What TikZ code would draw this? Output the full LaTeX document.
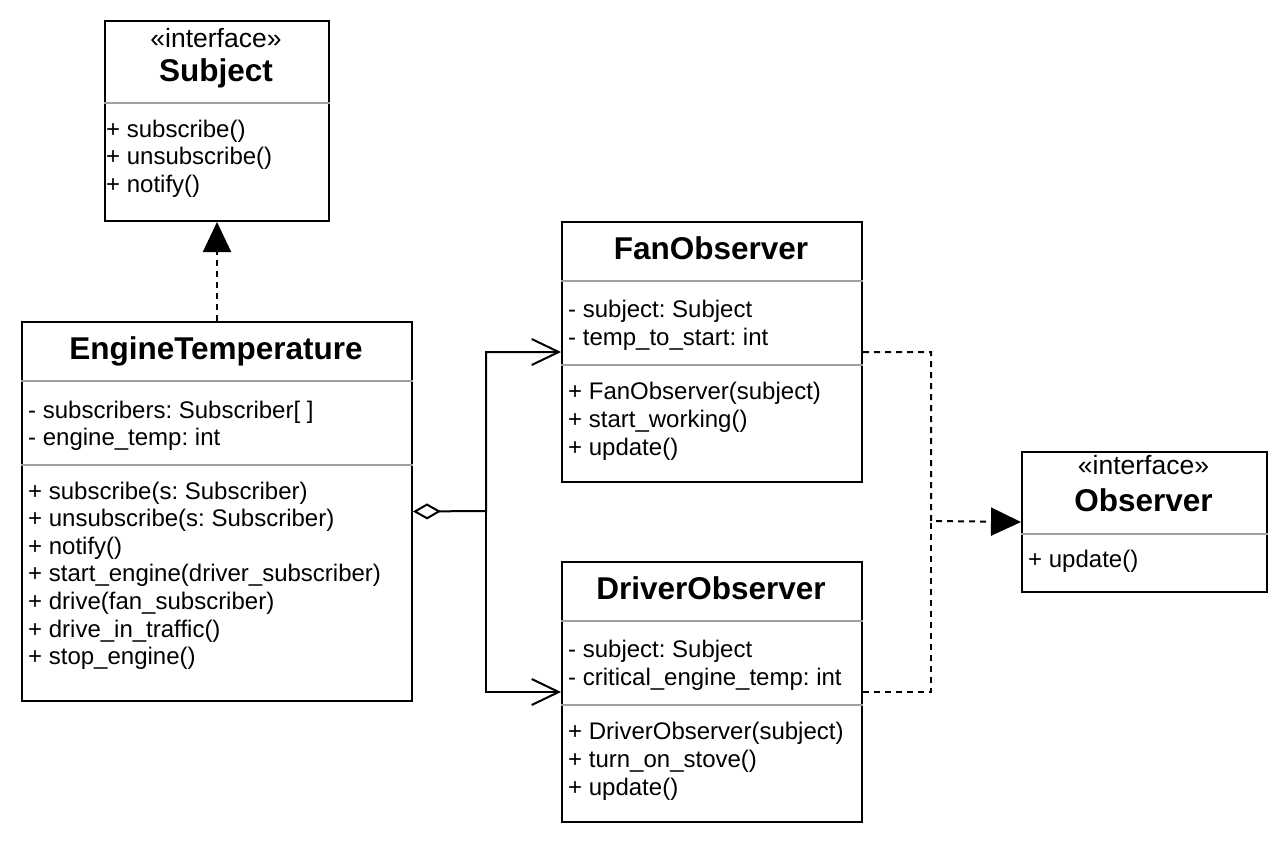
\documentclass[tikz,border=0pt]{standalone}
\usepackage{fontspec}
\setmainfont{Liberation Sans}
\usetikzlibrary{arrows.meta,calc}
\definecolor{sepgray}{RGB}{160,160,160}
\frenchspacing
\begin{document}
\begin{tikzpicture}[x=1pt,y=-1pt,
  umlbox/.style={draw=black,line width=2pt,rectangle,inner sep=0pt,anchor=north west,fill=white},
  sepline/.style={draw=sepgray,line width=2pt},
  txt/.style={anchor=base west,inner sep=0pt,font=\fontsize{24}{28}\selectfont\frenchspacing},
  ctxt/.style={anchor=base,inner sep=0pt,font=\fontsize{26.5}{30}\selectfont},
  ttl/.style={anchor=base,inner sep=0pt,font=\fontsize{31.5}{36}\selectfont\bfseries},
  conn/.style={line width=2pt},
  dconn/.style={line width=2pt,dash pattern=on 6pt off 5pt},
  realize/.style={-{Triangle[length=30pt,width=28pt]}},
  navig/.style={-{Straight Barb[length=27pt,width=26pt]}},
  aggr/.style={{Diamond[open,length=28pt,width=16pt]}-{Straight Barb[length=27pt,width=26pt]}}
]
\useasboundingbox (0,0) rectangle (1288,844);
\fill[white] (0,0) rectangle (1288,844);

% boxes
\node[umlbox,minimum width=224pt,minimum height=200pt] (subj) at (104,20) {};
\node[umlbox,minimum width=390pt,minimum height=379pt] (eng) at (21,321) {};
\node[umlbox,minimum width=300pt,minimum height=260pt] (fan) at (561,221) {};
\node[umlbox,minimum width=300pt,minimum height=260pt] (drv) at (561,561) {};
\node[umlbox,minimum width=245pt,minimum height=140pt] (obs) at (1021,451) {};

% separators
\draw[sepline] (subj.west |- 0,103) -- (subj.east |- 0,103);
\draw[sepline] (eng.west |- 0,381) -- (eng.east |- 0,381);
\draw[sepline] (eng.west |- 0,465) -- (eng.east |- 0,465);
\draw[sepline] (fan.west |- 0,281) -- (fan.east |- 0,281);
\draw[sepline] (fan.west |- 0,365) -- (fan.east |- 0,365);
\draw[sepline] (drv.west |- 0,621) -- (drv.east |- 0,621);
\draw[sepline] (drv.west |- 0,705) -- (drv.east |- 0,705);
\draw[sepline] (obs.west |- 0,534) -- (obs.east |- 0,534);

% Subject
\node[ctxt] (subjst) at (216,47) {«interface»};
\node[ttl] (subjt) at (216,81) {Subject};
\node[txt] (subjm1) at (106,137) {+ subscribe()};
\node[txt] (subjm2) at (106,164.5) {+ unsubscribe()};
\node[txt] (subjm3) at (106,192) {+ notify()};

% EngineTemperature
\node[ttl] (engt) at (216,359) {EngineTemperature};
\node[txt] (enga1) at (28,418) {- subscribers: Subscriber[ ]};
\node[txt] (enga2) at (28,445.5) {- engine\_temp: int};
\node[txt] (engm1) at (28,499) {+ subscribe(s: Subscriber)};
\node[txt] (engm2) at (28,526.6) {+ unsubscribe(s: Subscriber)};
\node[txt] (engm3) at (28,554.2) {+ notify()};
\node[txt] (engm4) at (28,581.8) {+ start\_engine(driver\_subscriber)};
\node[txt] (engm5) at (28,609.4) {+ drive(fan\_subscriber)};
\node[txt] (engm6) at (28,637) {+ drive\_in\_traffic()};
\node[txt] (engm7) at (28,664.6) {+ stop\_engine()};

% FanObserver
\node[ttl] (fant) at (711,259) {FanObserver};
\node[txt] (fana1) at (568,317) {- subject: Subject};
\node[txt] (fana2) at (568,345) {- temp\_to\_start: int};
\node[txt] (fanm1) at (568,399) {+ FanObserver(subject)};
\node[txt] (fanm2) at (568,427) {+ start\_working()};
\node[txt] (fanm3) at (568,455) {+ update()};

% DriverObserver
\node[ttl] (drvt) at (711,599) {DriverObserver};
\node[txt] (drva1) at (568,657) {- subject: Subject};
\node[txt] (drva2) at (568,685) {- critical\_engine\_temp: int};
\node[txt] (drvm1) at (568,739) {+ DriverObserver(subject)};
\node[txt] (drvm2) at (568,767) {+ turn\_on\_stove()};
\node[txt] (drvm3) at (568,795) {+ update()};

% Observer
\node[ctxt] (obsst) at (1143.5,474) {«interface»};
\node[ttl] (obst) at (1143.5,511) {Observer};
\node[txt] (obsm1) at (1028,567) {+ update()};

% connectors
\coordinate (ja) at (486,511);
\coordinate (jo) at (931,521);
\draw[dconn,realize] (eng.north) -- (subj.south);
\draw[conn,aggr] (eng.east) -- (ja) |- (fan.west);
\draw[conn,navig] (ja) |- (drv.west);
\draw[dconn,realize] (fan.east) -| (jo) -- (obs.west);
\draw[dconn] (drv.east) -| (jo);
\end{tikzpicture}
\end{document}
